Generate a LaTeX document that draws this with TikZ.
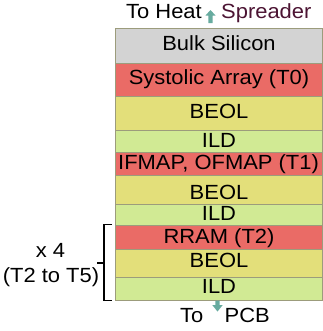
\documentclass[tikz,border=0pt]{standalone}
\usepackage{fontspec}
\setmainfont{Liberation Sans}[FakeStretch=1.07]
\definecolor{cgray}{HTML}{D3D3D3}
\definecolor{cred}{HTML}{EA6B66}
\definecolor{cyel}{HTML}{E3DF7A}
\definecolor{cgrn}{HTML}{D1EA94}
\definecolor{cedge}{HTML}{9C9C7C}
\definecolor{cteal}{HTML}{67AB9F}
\definecolor{cmaroon}{HTML}{4C1433}
\begin{document}
\begin{tikzpicture}[x=1bp,y=-1bp,
  layer/.style={draw=cedge,line width=0.8bp},
  lbl/.style={anchor=base,inner sep=0pt,font=\fontsize{20.5bp}{23bp}\selectfont},
  harrow/.style={fill=cteal,draw=none},
  brk/.style={line width=1.8bp,line cap=butt}]
\useasboundingbox (0,0) rectangle (323,331);
% layers
\fill[white] (0,0) rectangle (323,331);
\draw[layer,fill=cgray] (115,28) rectangle (322,63);
\draw[layer,fill=cred]  (115,63) rectangle (322,96);
\draw[layer,fill=cyel]  (115,96) rectangle (322,130);
\draw[layer,fill=cgrn]  (115,130) rectangle (322,152);
\draw[layer,fill=cred]  (115,152) rectangle (322,175);
\draw[layer,fill=cyel]  (115,175) rectangle (322,204);
\draw[layer,fill=cgrn]  (115,204) rectangle (322,225);
\draw[layer,fill=cred]  (115,225) rectangle (322,249);
\draw[layer,fill=cyel]  (115,249) rectangle (322,277);
\draw[layer,fill=cgrn]  (115,277) rectangle (322,300);
% labels
\node[lbl] (bulk) at (219,50.5) {Bulk Silicon};
\node[lbl] (sys)  at (219,84) {Systolic Array (T0)};
\node[lbl] (beol1) at (219,118.5) {BEOL};
\node[lbl] (ild1) at (219,147) {ILD};
\node[lbl] (ifm) at (218.5,169.5) {IFMAP, OFMAP (T1)};
\node[lbl] (beol2) at (219,199.5) {BEOL};
\node[lbl] (ild2) at (219,220.5) {ILD};
\node[lbl] (rram) at (219,243.5) {RRAM (T2)};
\node[lbl] (beol3) at (219,267.5) {BEOL};
\node[lbl] (ild3) at (219,293.5) {ILD};
% top text
\node[lbl,anchor=base east] (toheat) at (202,18.5) {To Heat};
\node[lbl,anchor=base west,text=cmaroon] (spread) at (221,18.5) {Spreader};
\path[harrow] (210.5,10) -- (215.5,15.5) -- (212.6,15.5) -- (212.6,23) -- (208.4,23) -- (208.4,15.5) -- (205.5,15.5) -- cycle;
% bottom text
\node[lbl,anchor=base east] (to) at (203.5,322) {To};
\node[lbl,anchor=base west] (pcb) at (224.5,322) {PCB};
\path[harrow] (215.4,300.5) -- (219.6,300.5) -- (219.6,305) -- (222.7,305) -- (217.5,311.5) -- (212.3,305) -- (215.4,305) -- cycle;
% bracket
\coordinate (bt) at (112,224.5);
\coordinate (bb) at (112,300.5);
\draw[brk] (bt) -- (104,224.5) -- (104,300.5) -- (bb);
\draw[brk] (104,263) -- (97,263);
\node[lbl] (x4) at (50.5,257.5) {x 4};
\node[lbl] (t25) at (51,282.5) {(T2 to T5)};
\end{tikzpicture}
\end{document}
